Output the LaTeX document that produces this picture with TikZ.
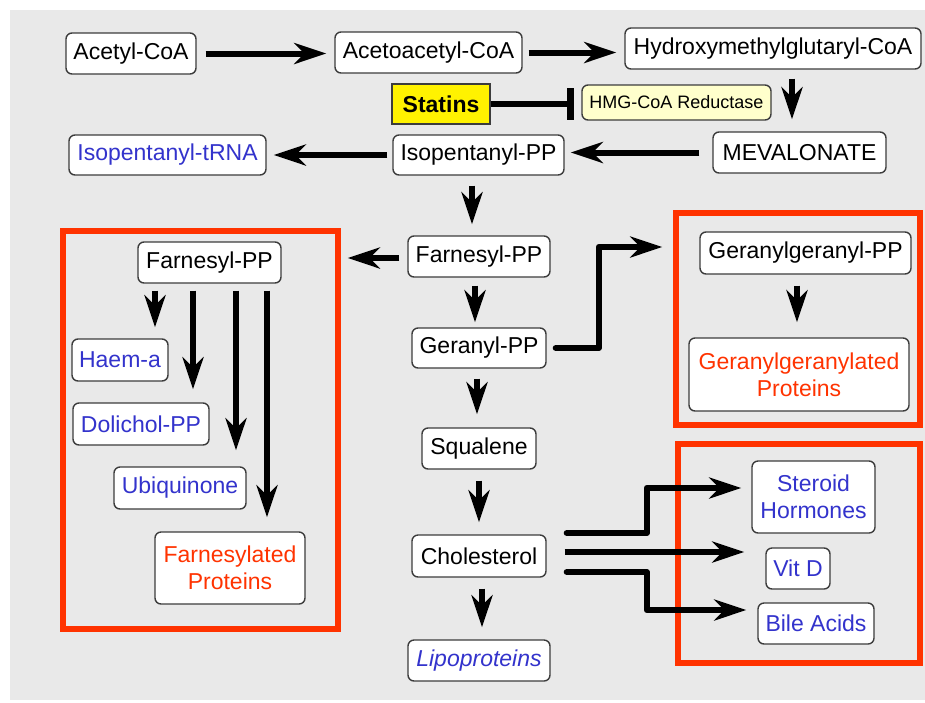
\documentclass[tikz,border=0pt]{standalone}
\usepackage{fontspec}
\setmainfont{Liberation Sans}
\usetikzlibrary{arrows.meta}
\definecolor{bg}{RGB}{233,233,233}
\definecolor{bord}{RGB}{60,60,60}
\definecolor{bluet}{RGB}{51,51,204}
\definecolor{redt}{RGB}{255,51,0}
\definecolor{lyellow}{RGB}{255,255,204}
\begin{document}
\begin{tikzpicture}[x=1pt,y=-1pt,
 nbox/.style={draw=bord,line width=1.4pt,rounded corners=6pt,fill=white,inner sep=0pt,align=center,font=\fontsize{23}{27}\selectfont},
 bltxt/.style={text=bluet},
 rdtxt/.style={text=redt},
 arr/.style={line width=6pt,-{Stealth[length=32pt,width=21pt,inset=10pt]}},
 elb/.style={arr,line cap=round,line join=round},
 grp/.style={draw=redt,line width=5.5pt},
]
\useasboundingbox (0,0) rectangle (925,702);
\fill[bg] (10,10) rectangle (925,700);

% group frames
\draw[grp] (63,231) rectangle (338,629);
\draw[grp] (676,213) rectangle (920,425);
\draw[grp] (678,444) rectangle (920,663);

% nodes
\node[nbox,minimum width=130pt,minimum height=41pt] (acetyl) at (131,53.5) {Acetyl-CoA};
\node[nbox,minimum width=187pt,minimum height=41pt] (acac) at (428.5,52.5) {Acetoacetyl-CoA};
\node[nbox,minimum width=296pt,minimum height=41pt] (hmg) at (773,48.5) {Hydroxymethylglutaryl-CoA};
\node[nbox,rounded corners=0pt,fill=yellow,minimum width=98pt,minimum height=40pt,font=\bfseries\fontsize{23}{27}\selectfont] (statins) at (441,104) {Statins};
\node[nbox,fill=lyellow,minimum width=189pt,minimum height=35pt,font=\fontsize{18}{21}\selectfont] (reduct) at (676.5,102.5) {HMG-CoA Reductase};
\node[nbox,minimum width=173pt,minimum height=41pt] (mev) at (799.5,152.5) {MEVALONATE};
\node[nbox,minimum width=171pt,minimum height=40pt] (iso) at (478.5,155) {Isopentanyl-PP};
\node[nbox,bltxt,minimum width=197pt,minimum height=40pt] (trna) at (167.5,155) {Isopentanyl-tRNA};
\node[nbox,minimum width=142pt,minimum height=41pt] (farn) at (479,256.5) {Farnesyl-PP};
\node[nbox,minimum width=143pt,minimum height=41pt] (lf) at (209.5,262.5) {Farnesyl-PP};
\node[nbox,bltxt,minimum width=96pt,minimum height=42pt] (haem) at (120,360) {Haem-a};
\node[nbox,bltxt,minimum width=136pt,minimum height=42pt] (doli) at (141,424) {Dolichol-PP};
\node[nbox,bltxt,minimum width=132pt,minimum height=42pt] (ubi) at (180,488) {Ubiquinone};
\node[nbox,rdtxt,minimum width=150pt,minimum height=72pt] (fprot) at (230,568) {Farnesylated\\Proteins};
\node[nbox,minimum width=134pt,minimum height=40pt] (ger) at (479,348) {Geranyl-PP};
\node[nbox,minimum width=211pt,minimum height=42pt] (gg) at (805.5,253) {Geranylgeranyl-PP};
\node[nbox,rdtxt,minimum width=220pt,minimum height=73pt] (ggp) at (799,374.5) {Geranylgeranylated\\Proteins};
\node[nbox,minimum width=114pt,minimum height=41pt] (sq) at (479,448.5) {Squalene};
\node[nbox,minimum width=134pt,minimum height=42pt] (chol) at (479,556) {Cholesterol};
\node[nbox,bltxt,minimum width=142pt,minimum height=41pt,font=\itshape\fontsize{23}{27}\selectfont] (lipo) at (479,660.5) {Lipoproteins};
\node[nbox,bltxt,minimum width=123pt,minimum height=72pt] (ster) at (813.5,497) {Steroid\\Hormones};
\node[nbox,bltxt,minimum width=64pt,minimum height=41pt] (vitd) at (798,568.5) {Vit D};
\node[nbox,bltxt,minimum width=116pt,minimum height=41pt] (bile) at (816,623.5) {Bile Acids};

% connectors
\draw[arr,shorten <=9pt,shorten >=8pt] (acetyl.east) -- (acetyl.east -| acac.west);
\draw[arr,shorten <=6pt,shorten >=8pt] (acac.east) -- (acac.east -| hmg.west);
\draw[arr,shorten <=9pt,shorten >=12pt] ([xshift=19pt]hmg.south) -- ([xshift=19pt]hmg.south |- mev.north);
\draw[line width=6pt,-{Rectangle[length=7pt,width=32pt]},shorten >=7pt] (statins.east) -- (statins.east -| reduct.west);
\draw[arr,shorten <=13pt,shorten >=6pt] (mev.west) -- (mev.west -| iso.east);
\draw[arr,shorten <=5pt,shorten >=7pt] (iso.west) -- (iso.west -| trna.east);
\draw[arr,shorten <=10pt,shorten >=11pt] ([xshift=-6.5pt]iso.south) -- ([xshift=-6.5pt]iso.south |- farn.north);
\draw[arr,shorten <=8pt,shorten >=66pt] ([yshift=-1.5pt]farn.west) -- ([yshift=-1.5pt]farn.west -| lf.east);
\draw[arr,shorten <=8pt,shorten >=5pt] ([xshift=-4pt]farn.south) -- ([xshift=-4pt]farn.south |- ger.north);
\draw[elb,shorten <=9pt] (ger.east) -- ++(52,0) |- ([xshift=-37pt,yshift=6pt]gg.west);
\draw[arr,shorten <=10pt,shorten >=13pt] ([xshift=-2pt]ger.south) -- ([xshift=-2pt]ger.south |- sq.north);
\draw[arr,shorten <=11pt,shorten >=12pt] (sq.south) -- (chol.north);
\draw[arr,shorten <=11pt,shorten >=12pt] ([xshift=3pt]chol.south) -- ([xshift=3pt]chol.south |- lipo.north);
\draw[arr,shorten <=11pt,shorten >=15pt] ([xshift=-8.5pt]gg.south) -- ([xshift=-8.5pt]gg.south |- ggp.north);

\draw[arr] ([xshift=-54.5pt,yshift=-7pt]lf.south) -- ([xshift=35pt,yshift=11pt]haem.north);
\draw[arr] ([xshift=-16.5pt,yshift=-7pt]lf.south) -- ([xshift=52pt,yshift=13pt]doli.north);
\draw[arr] ([xshift=26.5pt,yshift=-7pt]lf.south) -- ([xshift=56pt,yshift=16pt]ubi.north);
\draw[arr] ([xshift=57.5pt,yshift=-7pt]lf.south) -- ([xshift=37pt,yshift=14pt]fprot.north);

\draw[elb] ([xshift=20pt,yshift=23pt]chol.east) -- ++(80,0) |- ([xshift=-10pt,yshift=9pt]ster.west);
\draw[arr] ([xshift=18pt,yshift=4pt]chol.east) -- ([xshift=-21pt,yshift=16.5pt]vitd.west);
\draw[elb] ([xshift=20pt,yshift=-16pt]chol.east) -- ++(80,0) |- ([xshift=-11pt,yshift=13.5pt]bile.west);
\end{tikzpicture}
\end{document}
